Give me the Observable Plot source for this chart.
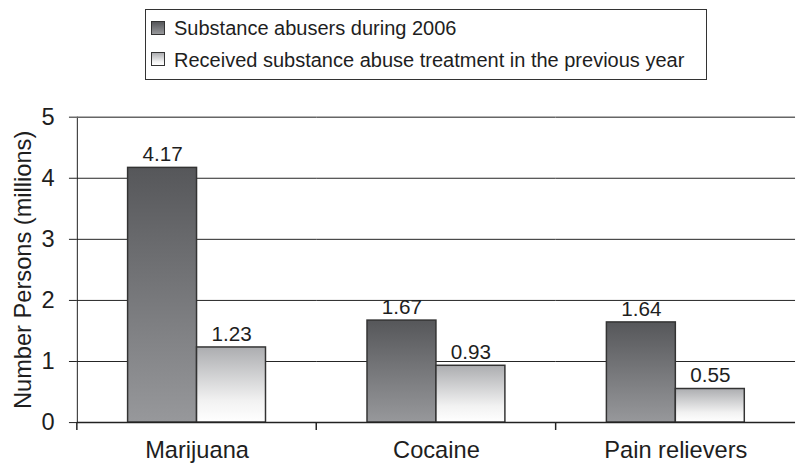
<!DOCTYPE html>
<html>
<head>
<meta charset="utf-8">
<script src="https://cdn.jsdelivr.net/npm/d3@7"></script>
<script src="https://cdn.jsdelivr.net/npm/@observablehq/plot@0.6"></script>
<style>
  html, body { margin: 0; padding: 0; overflow: hidden; background: #fff; }
  #wrap { width: 798px; height: 469px; overflow: hidden; position: relative;
          font-family: "Liberation Sans", Arial, Helvetica, sans-serif; color: #1e1e1e; }
  #legend { position: relative; height: 96px; }
  #legend .box { position: absolute; left: 145px; top: 9px; width: 562px; height: 71px;
                 box-sizing: border-box; border: 1.5px solid #333; }
  #legend .swatch { position: absolute; left: 151px; width: 14px; height: 14px;
                    box-sizing: border-box; border: 1px solid #333; }
  #legend .label { position: absolute; left: 174px; font-size: 20px; line-height: 20px; white-space: nowrap; }
  #chart svg { display: block; overflow: hidden; }
</style>
</head>
<body>
<svg width="0" height="0" style="position:absolute">
  <defs>
    <linearGradient id="fill-abusers" x1="0" y1="0" x2="0" y2="1">
      <stop offset="0" stop-color="#56575a"/>
      <stop offset="1" stop-color="#97989b"/>
    </linearGradient>
    <linearGradient id="fill-treated" x1="0" y1="0" x2="0" y2="1">
      <stop offset="0" stop-color="#acadb0"/>
      <stop offset="0.72" stop-color="#f2f2f2"/>
      <stop offset="1" stop-color="#ffffff"/>
    </linearGradient>
  </defs>
</svg>
<div id="wrap">
  <div id="legend"></div>
  <div id="chart"></div>
</div>
<script>
// Drug categories and the two series (millions of persons)
const categories = ["Marijuana", "Cocaine", "Pain relievers"];
const seriesNames = [
  "Substance abusers during 2006",
  "Received substance abuse treatment in the previous year"
];
const abusers = [4.17, 1.67, 1.64];
const treated = [1.23, 0.93, 0.55];
const yTicks = [0, 1, 2, 3, 4, 5];
const yLabel = "Number Persons (millions)";

const seriesFill = ["url(#fill-abusers)", "url(#fill-treated)"];
const swatchCss = [
  "linear-gradient(to bottom, #56575a, #97989b)",
  "linear-gradient(to bottom, #acadb0, #f2f2f2 72%, #ffffff)"
];

// Long-format rows for faceting: one row per category × series
const rows = categories.flatMap((category, i) => [
  {category, series: seriesNames[0], value: abusers[i]},
  {category, series: seriesNames[1], value: treated[i]}
]);

// Legend box above the chart
const legend = d3.select("#legend");
legend.append("div").attr("class", "box");
const legendRows = [{sw: 21, tx: 18}, {sw: 52, tx: 50}];
seriesNames.forEach((name, i) => {
  legend.append("div").attr("class", "swatch")
    .style("top", legendRows[i].sw + "px")
    .style("background", swatchCss[i]);
  legend.append("div").attr("class", "label")
    .style("top", legendRows[i].tx + "px")
    .text(name);
});

const fmt = d3.format(".2f");

const chart = Plot.plot({
  width: 810,
  height: 373,
  marginTop: 21,
  marginBottom: 42,
  marginLeft: 77.5,
  marginRight: 3.5,
  style: {
    fontFamily: '"Liberation Sans", Arial, Helvetica, sans-serif',
    fontSize: "24px",
    color: "#1e1e1e",
    background: "transparent"
  },
  facet: {data: rows, x: "category", label: null},
  fx: {domain: categories, padding: 0, axis: "bottom", tickSize: 0, tickPadding: 19, label: null},
  x: {domain: seriesNames, axis: null, paddingInner: 0, paddingOuter: 0.736, round: false},
  y: {
    domain: [yTicks[0], yTicks[yTicks.length - 1]],
    ticks: yTicks,
    tickFormat: d3.format("d"),
    tickSize: 8,
    tickPadding: 15,
    line: true,
    label: yLabel,
    labelArrow: false,
    labelAnchor: "center",
    labelOffset: 64
  },
  marks: [
    // horizontal gridlines
    Plot.ruleY(yTicks.slice(1, -1), {stroke: "#222", strokeWidth: 1}),
    Plot.ruleY(yTicks.slice(-1), {stroke: "#666", strokeWidth: 1.6}),
    // bars, one mark per series so each gets its own gradient
    Plot.barY(rows, {
      filter: d => d.series === seriesNames[0],
      x: "series", y: "value",
      fill: seriesFill[0], stroke: "#333", strokeWidth: 1.5
    }),
    Plot.barY(rows, {
      filter: d => d.series === seriesNames[1],
      x: "series", y: "value",
      fill: seriesFill[1], stroke: "#333", strokeWidth: 1.5
    }),
    // value labels above bars
    Plot.text(rows, {
      x: "series", y: "value",
      text: d => fmt(d.value),
      lineAnchor: "bottom",
      dy: -7,
      fontSize: 21,
      fill: "#1e1e1e"
    }),
    // baseline
    Plot.ruleY([0], {stroke: "#222", strokeWidth: 1.5})
  ]
});

document.getElementById("chart").append(chart);

// Category boundary tick marks below the baseline, placed with the fx and y scales
const fx = chart.scale("fx");
const y = chart.scale("y");
const y0 = y.apply(0);
const bounds = categories.map(c => fx.apply(c));
d3.select(chart).append("g")
  .attr("stroke", "#222")
  .attr("stroke-width", 1.5)
  .selectAll("line")
  .data(bounds)
  .join("line")
  .attr("x1", d => d).attr("x2", d => d)
  .attr("y1", y0).attr("y2", y0 + 8);
</script>
</body>
</html>
